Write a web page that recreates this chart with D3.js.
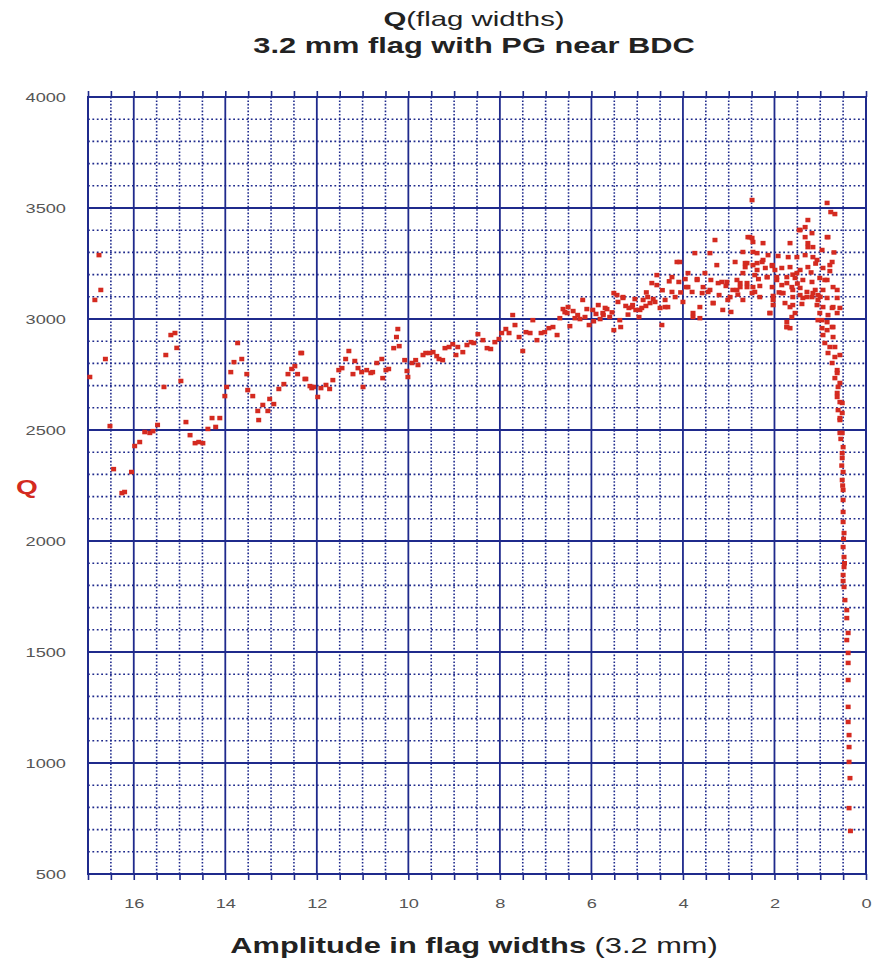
<!DOCTYPE html>
<html>
<head>
<meta charset="utf-8">
<script src="https://cdn.jsdelivr.net/npm/d3@7"></script>
<style>
  body { margin: 0; background: #fff; }
  svg { display: block; font-family: "Liberation Sans", Arial, sans-serif; }
</style>
</head>
<body>
<div id="chart"></div>
<script>
// Amplitude (flag widths) and Q, region by region
var leftTail = [
  [16.76,3288],[16.72,3131],[16.85,3086],[16.62,2820],[16.96,2739],[16.52,2518],
  [16.44,2324],[16.26,2216],[16.20,2221],[16.05,2311],[15.98,2428],[15.87,2446],
  [15.76,2491],[15.65,2487],[15.58,2495],[15.48,2523],[15.34,2694],[15.30,2838],
  [15.19,2928],[15.10,2937],[15.06,2870],[14.97,2721],[14.86,2536],[14.77,2477],
  [14.66,2441],[14.58,2446],[14.49,2441],[14.38,2505],[14.29,2554],[14.21,2514],
  [14.12,2554],[14.01,2653],[13.97,2694],[13.88,2761],[13.81,2806],[13.73,2892],
  [13.64,2820],[13.53,2752],[13.51,2680],[13.40,2653],[13.29,2586],[13.27,2545],
  [13.18,2613],[13.07,2586],[13.03,2640],[12.94,2617],[12.83,2685],[12.72,2707],
  [12.63,2752],[12.55,2775],[12.48,2788],[12.35,2847],[12.42,2752],[12.26,2730],
  [12.11,2689]
];
var midRise = [
  [12.33,2847],[12.24,2730],[12.15,2698],[12.07,2694],[11.98,2649],[11.91,2689],
  [11.80,2703],[11.72,2685],[11.65,2725],[11.52,2770],[11.45,2779],[11.37,2820],
  [11.30,2856],[11.21,2752],[11.17,2811],[11.10,2779],[11.02,2761],[10.99,2694],
  [10.91,2770],[10.82,2757],[10.78,2761],[10.69,2802],[10.58,2820],[10.56,2734],
  [10.49,2770],[10.43,2775],[10.32,2869],[10.26,2919],[10.23,2955],[10.20,2878],
  [10.08,2815],[10.03,2766],[10.01,2739],[9.92,2802],[9.84,2815],[9.79,2793],
  [9.68,2838],[9.62,2847],[9.53,2847],[9.46,2851],[9.38,2833],[9.33,2820],
  [9.25,2815],[9.20,2869],[9.11,2874],[9.03,2887],[8.96,2838],[8.92,2874],
  [8.81,2851],[8.72,2883],[8.63,2896],[8.57,2892],[8.48,2932],[8.37,2905],
  [8.28,2869],[8.20,2865],[8.11,2896],[8.02,2910],[7.96,2937],[7.87,2955],
  [7.80,2937],[7.72,3018],[7.67,2973],[7.58,2919],[7.50,2856],[7.43,2941],
  [7.34,2937],[7.28,2995],[7.19,2905],[7.10,2937],[7.02,2941],[6.93,2959],
  [6.84,2964],[6.75,2928],[6.69,3004],[6.58,3031],[6.51,3054]
];
var plateau = [
  [6.62,3045],[6.53,3027],[6.47,2968],[6.36,3004],[6.30,3018],[6.19,3086],
  [6.14,3009],[6.05,2973],[5.97,3041],[5.90,3023],[5.81,3000],[5.74,3018],
  [5.66,3045],[5.60,3009],[5.51,3117],[5.51,2950],[5.42,3077],[5.36,2964],
  [5.31,3099],[5.25,3059],[5.18,3050],[5.10,3063],[5.03,3041],[4.96,3009],
  [4.87,3086],[4.81,3059],[4.77,3099],[4.68,3162],[4.61,3077],[4.57,3198],
  [4.50,3050],[4.46,2973],[4.39,3086],[4.33,3054],[4.24,3122],[4.17,3099],
  [4.13,3257],[4.09,3167],[4.00,3077],[3.93,3144],[3.89,3207],[3.80,3122],
  [3.78,3009],[3.74,3297],[3.69,3180],[3.63,3004],[3.56,3144],[3.52,3207],
  [3.45,3122],[3.39,3176],[3.34,3072],[3.30,3356],[3.26,3243],[3.21,3108],
  [3.15,3167],[3.13,3041],[3.06,3149],[3.02,3086],[2.95,3032],[2.91,3131],
  [2.86,3257],[2.82,3176],[2.75,3162],[2.69,3086],[2.64,3234],[2.60,3144],
  [2.54,3369],[2.47,3302],[2.43,3122],[2.38,3252],
  [5.70,3050],[5.44,3108],[5.31,3095],[5.11,3054],[4.94,3041],[4.72,3072],
  [4.57,3153],[4.39,3054],[4.24,3189],[4.07,3257],[3.89,3144],[3.69,3176],
  [3.58,3117],[3.41,3131],[3.23,3162],[3.04,3167],[2.82,3131],[2.75,3144],
  [2.60,3252],[5.38,2995],[5.75,3027],[3.78,3027],[3.63,3054],[3.34,3072],
  [2.97,3099],[3.41,3297],[6.40,3036],[6.25,3000],[6.10,3045],[5.95,2990],
  [5.85,3063],[5.55,3030],[5.20,3020],[5.05,3090],[4.90,3050],[4.80,3120],
  [4.65,3090],[4.45,3130],[4.30,3170],[4.05,3120],[3.95,3180]
];
var peak = [
  [2.49,3536],[0.85,3523],[0.68,3473],[1.27,3446],[1.33,3414],[1.46,3401],
  [1.18,3387],[0.85,3369],[2.58,3369],[2.47,3347],[2.25,3342],[1.66,3342],
  [1.27,3342],[1.16,3324],[0.96,3311],[2.69,3302],[2.38,3297],[2.14,3288],
  [1.92,3284],[1.70,3279],[1.51,3279],[1.33,3288],[0.74,3257],[1.07,3266],
  [2.64,3252],[2.47,3243],[2.27,3257],[2.05,3239],[1.99,3221],[1.84,3230],
  [1.66,3234],[1.44,3221],[1.27,3234],[0.94,3230],[0.79,3216],[2.69,3207],
  [2.43,3198],[2.16,3189],[1.95,3189],[1.73,3189],[1.55,3185],[1.38,3176],
  [1.18,3167],[1.01,3185],[0.85,3176],[2.60,3162],[2.32,3149],[2.05,3144],
  [1.84,3153],[1.62,3144],[1.44,3140],[1.29,3122],[1.11,3131],[0.94,3131],
  [0.72,3144],[2.49,3117],[2.03,3104],[1.81,3117],[1.60,3099],[1.38,3095],
  [1.18,3099],[1.05,3108],[0.85,3095],[0.63,3095],[2.03,3063],[1.77,3072],
  [1.60,3063],[1.40,3068],[1.07,3063],[0.94,3054],[0.74,3050],[0.57,3050],
  [2.10,3027],[1.55,3027],[1.01,3027],[0.83,3018],[0.63,3027],[1.05,2995],
  [0.85,2986],[1.73,2964],[1.66,2959],[0.96,2959],[0.74,2964],[0.94,2928],
  [0.72,2919],[0.90,2892],[0.68,2874],[0.83,2847],[0.57,2838],[0.74,2802],
  [0.63,2770],[0.68,2734],[0.57,2712],[0.63,2667],[0.57,2626],[0.61,2590],
  [0.57,2554],[1.20,3210],[1.50,3160],[2.20,3230],[1.90,3120],[1.00,3100],
  [0.77,3482],[2.35,3180],[2.80,3110],[1.10,3250],[0.70,3300],[1.60,3200],
  [2.49,3365],[2.38,3221],[2.25,3266],[2.16,3189],[2.05,3243],[1.95,3176],
  [1.84,3117],[1.73,3162],[1.60,3131],[1.44,3108],[1.29,3099],[1.16,3117],
  [1.05,3086],[1.44,3401],[1.33,3369],[1.27,3324],[1.16,3279],[1.51,3207],
  [1.66,3054],[1.73,2964],[1.62,3009],[0.96,2995],[0.85,2950],[0.72,2964],
  [0.79,2874],[0.68,2829],[0.63,2757],[0.61,2694],[0.63,2649],[0.83,3369],
  [0.79,3243],[0.90,3176],[0.63,3131],[0.72,3054],[2.47,3144],[2.32,3099],
  [2.10,3027],[1.73,2986],[2.03,3086]
];
var drop = [
  [0.52,2622],[0.57,2545],[0.52,2487],[0.50,2423],[0.52,2374],[0.50,2311],
  [0.52,2275],[0.50,2230],[0.50,2185],[0.50,2131],[0.50,2086],[0.48,2036],
  [0.50,1973],[0.48,1928],[0.48,1883],[0.50,1847],[0.48,1793],[0.46,1734],
  [0.42,1689],[0.42,1653],[0.39,1586],[0.42,1554],[0.39,1496],[0.39,1451],
  [0.39,1374],[0.39,1253],[0.39,1185],[0.37,1126],[0.37,1072],[0.37,1005],
  [0.35,932],[0.37,797],[0.34,694],[0.55,2460],[0.53,2340],[0.51,2250],
  [0.49,2010],[0.47,1900],[0.50,1820],[0.52,2577],[0.57,2487],[0.52,2396]
];

var xTickLabels = [16, 14, 12, 10, 8, 6, 4, 2, 0];
var yTickLabels = [500, 1000, 1500, 2000, 2500, 3000, 3500, 4000];

var width = 873, height = 963;
var margin = {top: 97, right: 7, bottom: 89, left: 88};
var stretch = 1.4;   // the picture's text is wide, like a stretched bitmap
var navy = "#1f2a8c";

var svg = d3.select("#chart").append("svg")
    .attr("width", width)
    .attr("height", height);

var x = d3.scaleLinear().domain([17, 0]).range([margin.left, width - margin.right]);
var y = d3.scaleLinear().domain([500, 4000]).range([height - margin.bottom, margin.top]);

// minor grid, dotted
var minorX = d3.range(0.5, 17, 0.5).filter(function(v){ return v % 2 != 0; });
var minorY = d3.range(600, 4000, 100).filter(function(v){ return v % 500 != 0; });

var grid = svg.append("g");
grid.selectAll(".vminor").data(minorX).enter().append("line")
    .attr("x1", function(d){ return x(d); }).attr("x2", function(d){ return x(d); })
    .attr("y1", y(4000)).attr("y2", y(500))
    .attr("stroke", navy).attr("stroke-width", 1.6)
    .attr("stroke-dasharray", "1.6,1.8");
grid.selectAll(".hminor").data(minorY).enter().append("line")
    .attr("x1", x(17)).attr("x2", x(0))
    .attr("y1", function(d){ return y(d); }).attr("y2", function(d){ return y(d); })
    .attr("stroke", navy).attr("stroke-width", 1.6)
    .attr("stroke-dasharray", "1.8,2.6");

// major grid, solid
grid.selectAll(".vmajor").data(d3.range(2, 17, 2)).enter().append("line")
    .attr("x1", function(d){ return x(d); }).attr("x2", function(d){ return x(d); })
    .attr("y1", y(4000)).attr("y2", y(500))
    .attr("stroke", navy).attr("stroke-width", 1.8);
grid.selectAll(".hmajor").data(yTickLabels).enter().append("line")
    .attr("x1", x(17)).attr("x2", x(0))
    .attr("y1", function(d){ return y(d); }).attr("y2", function(d){ return y(d); })
    .attr("stroke", navy).attr("stroke-width", 1.8);

svg.append("rect")
    .attr("x", x(17)).attr("y", y(4000))
    .attr("width", x(0) - x(17)).attr("height", y(500) - y(4000))
    .attr("fill", "none").attr("stroke", navy).attr("stroke-width", 2);

// axes
var halfSteps = d3.range(0, 17.01, 0.5);
var topAxis = d3.axisTop(x).tickValues(halfSteps).tickSize(6).tickFormat("");
svg.append("g").attr("transform", "translate(0," + y(4000) + ")").call(topAxis)
    .call(function(g){ g.select(".domain").remove(); })
    .selectAll("line").attr("stroke", navy).attr("stroke-width", 1.6);

var bottomAxis = d3.axisBottom(x).tickValues(halfSteps).tickSize(6)
    .tickFormat(function(d){ return xTickLabels.indexOf(d) >= 0 ? d : ""; });
var gx = svg.append("g").attr("transform", "translate(0," + y(500) + ")").call(bottomAxis);
gx.select(".domain").remove();
gx.selectAll("line").attr("stroke", navy).attr("stroke-width", 1.6);
gx.selectAll("text")
    .attr("fill", "#555").style("font-size", "13px")
    .attr("transform", "translate(0,25) scale(" + stretch + ",1)").attr("y", 0);

var leftAxis = d3.axisLeft(y).tickValues(yTickLabels).tickSize(0).tickPadding(0)
    .tickFormat(d3.format("d"));
var gy = svg.append("g").attr("transform", "translate(" + x(17) + ",0)").call(leftAxis);
gy.select(".domain").remove();
gy.selectAll("text")
    .attr("fill", "#555").style("font-size", "13px")
    .attr("x", 0)
    .attr("transform", "translate(-22,0) scale(" + stretch + ",1)");

// points
var allPoints = leftTail.concat(midRise, plateau, peak, drop);
svg.append("g").selectAll("rect").data(allPoints).enter().append("rect")
    .attr("x", function(d){ return x(d[0]) - 2.5; })
    .attr("y", function(d){ return y(d[1]) - 2.2; })
    .attr("width", 5).attr("height", 4.5)
    .attr("fill", "#d42a20");

// titles
var cx = 474;
var t1 = svg.append("text")
    .attr("transform", "translate(" + cx + ",26) scale(" + stretch + ",1)")
    .attr("text-anchor", "middle").style("font-size", "21px").attr("fill", "#222");
t1.append("tspan").style("font-weight", "bold").text("Q");
t1.append("tspan").text("(flag widths)");

svg.append("text")
    .attr("transform", "translate(" + cx + ",53) scale(" + stretch + ",1)")
    .attr("text-anchor", "middle").style("font-size", "22px").style("font-weight", "bold")
    .attr("fill", "#222")
    .text("3.2 mm flag with PG near BDC");

var xl = svg.append("text")
    .attr("transform", "translate(474,953) scale(" + stretch + ",1)")
    .attr("text-anchor", "middle").style("font-size", "22px").attr("fill", "#222");
xl.append("tspan").style("font-weight", "bold").text("Amplitude in flag widths");
xl.append("tspan").text(" (3.2 mm)");

svg.append("text")
    .attr("transform", "translate(27,494) scale(" + stretch + ",1)")
    .attr("text-anchor", "middle").style("font-size", "20px").style("font-weight", "bold")
    .attr("fill", "#d42a20")
    .text("Q");
</script>
</body>
</html>
